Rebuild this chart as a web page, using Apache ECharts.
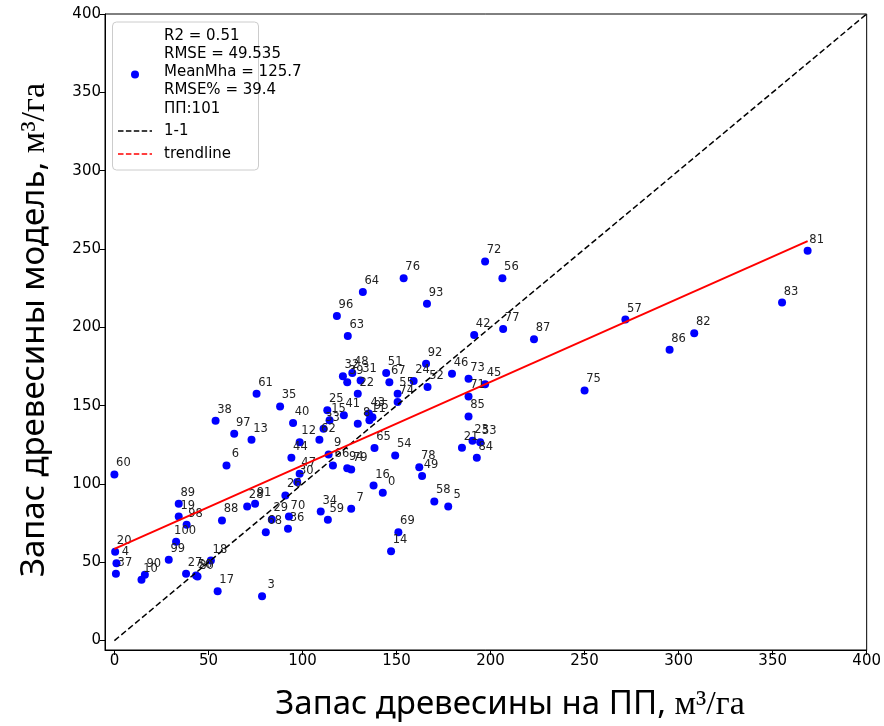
<!DOCTYPE html>
<html>
<head>
<meta charset="utf-8">
<script src="https://cdn.jsdelivr.net/npm/echarts@6/dist/echarts.min.js"></script>
<style>
  html, body { margin: 0; padding: 0; background: #ffffff; }
  #chart { width: 884px; height: 726px; }
</style>
</head>
<body>
<div id="chart"></div>
<script>
// Sample plot numbers (ПП) with field stock and model estimate, м³/га
const plotIds = [
  0, 3, 4, 5, 6, 7, 8, 9, 10, 11,
  12, 13, 14, 15, 16, 17, 18, 19, 20, 21,
  22, 23, 24, 25, 26, 27, 28, 29, 30, 31,
  32, 33, 34, 35, 36, 37, 38, 39, 40, 41,
  42, 43, 44, 45, 46, 47, 48, 49, 50, 51,
  52, 53, 54, 55, 56, 57, 58, 59, 60, 61,
  62, 63, 64, 65, 66, 67, 68, 69, 70, 71,
  72, 73, 74, 75, 76, 77, 78, 79, 80, 81,
  82, 83, 84, 85, 86, 87, 88, 89, 90, 91,
  92, 93, 94, 95, 96, 97, 98, 99, 100
];
const fieldStock = [
  142.7, 78.5, 1.1, 177.5, 59.6, 125.9, 129.4, 113.9, 14.4, 135.6,
  98.5, 72.9, 147.1, 114.4, 137.8, 54.9, 51.3, 34.2, 0.4, 184.8,
  129.4, 190.4, 159.1, 113.2, 90.9, 38.1, 70.6, 83.7, 97.2, 130.9,
  121.5, 111.2, 109.7, 88.1, 92.3, 0.8, 53.8, 123.8, 95.0, 122.0,
  191.3, 135.3, 94.1, 197.1, 179.5, 98.5, 126.5, 163.6, 43.4, 144.5,
  166.5, 194.5, 149.3, 150.6, 206.3, 271.7, 170.1, 113.5, 0.0, 75.6,
  109.0, 124.1, 132.1, 138.3, 116.2, 146.2, 80.5, 151.0, 92.8, 188.3,
  197.1, 188.3, 150.6, 250.0, 153.8, 206.7, 162.1, 125.9, 44.2, 368.6,
  308.3, 355.0, 192.7, 188.3, 295.2, 223.1, 57.2, 34.2, 16.2, 74.8,
  165.7, 166.2, 123.8, 137.2, 118.3, 63.7, 38.4, 28.9, 32.8
];
const modelStock = [
  94.4, 28.3, 49.4, 85.6, 111.8, 84.2, 138.5, 118.8, 38.8, 140.6,
  126.7, 128.2, 57.1, 140.6, 99.0, 31.5, 51.1, 79.2, 56.7, 123.1,
  157.6, 127.6, 165.7, 147.0, 92.7, 42.6, 85.6, 77.3, 101.3, 166.1,
  168.7, 135.3, 82.4, 149.5, 71.4, 42.6, 140.4, 165.0, 138.9, 143.8,
  195.1, 144.9, 116.7, 163.6, 170.4, 106.5, 170.8, 105.0, 41.5, 170.8,
  161.9, 126.7, 118.2, 157.6, 231.3, 204.9, 88.8, 77.1, 106.1, 157.6,
  128.2, 194.4, 222.6, 122.9, 111.8, 165.0, 69.2, 69.2, 79.2, 155.9,
  242.0, 167.2, 152.3, 159.7, 231.3, 198.9, 110.7, 109.3, 40.9, 248.8,
  196.2, 215.8, 116.7, 143.1, 185.7, 192.3, 76.7, 87.3, 42.0, 87.3,
  176.8, 215.1, 110.1, 142.5, 207.2, 132.1, 73.9, 51.6, 63.1
];

const xTicks = [0, 50, 100, 150, 200, 250, 300, 350, 400];
const yTicks = [0, 50, 100, 150, 200, 250, 300, 350, 400];
const statsLines = ['R2 = 0.51', 'RMSE = 49.535', 'MeanMha = 125.7', 'RMSE% = 39.4', 'ПП:101'];
const identityRange = [0, 400];
const trendSlope = 0.533;
const trendIntercept = 58.6;

const points = plotIds.map((id, i) => [fieldStock[i], modelStock[i], id]);
const xMin = Math.min(...fieldStock);
const xMax = Math.max(...fieldStock);
const trendLine = [xMin, xMax].map(x => [x, trendIntercept + trendSlope * x]);
const identityLine = identityRange.map(v => [v, v]);

const tickFont = 'DejaVu Sans';
const chart = echarts.init(document.getElementById('chart'), null, { renderer: 'canvas' });

const titleRich = {
  s: { fontFamily: 'Noto Sans', fontSize: 33, fill: '#000' },
  m: { fontFamily: 'Liberation Serif', fontSize: 34, fill: '#000' }
};

chart.setOption({
  animation: false,
  backgroundColor: '#ffffff',
  grid: {
    left: 105, top: 14, width: 764, height: 636,
    show: true, borderColor: '#000000', borderWidth: 1, backgroundColor: 'transparent'
  },
  xAxis: {
    type: 'value', min: -5, max: 400,
    axisLine: { show: true, onZero: false, lineStyle: { color: '#000', width: 1 } },
    axisTick: { show: true, inside: false, length: 5, customValues: xTicks, lineStyle: { color: '#000' } },
    axisLabel: { customValues: xTicks, color: '#000', fontFamily: tickFont, fontSize: 15, margin: 4 },
    splitLine: { show: false }
  },
  yAxis: {
    type: 'value', min: -6, max: 400,
    axisLine: { show: true, onZero: false, lineStyle: { color: '#000', width: 1 } },
    axisTick: { show: true, inside: false, length: 5, customValues: yTicks, lineStyle: { color: '#000' } },
    axisLabel: { customValues: yTicks, color: '#000', fontFamily: tickFont, fontSize: 15, margin: 4 },
    splitLine: { show: false }
  },
  series: [
    {
      type: 'scatter',
      data: points,
      symbol: 'circle',
      symbolSize: 8,
      itemStyle: { color: '#0000ff', opacity: 1 },
      label: {
        show: true,
        formatter: p => String(p.value[2]),
        position: [13, -7],
        align: 'center',
        verticalAlign: 'middle',
        color: '#222222',
        fontFamily: tickFont,
        fontSize: 11.5
      },
      labelLayout: { hideOverlap: false },
      z: 2
    },
    {
      type: 'line',
      data: identityLine,
      showSymbol: false,
      lineStyle: { color: '#000000', width: 1.5, type: [6, 3] },
      z: 3,
      silent: true
    },
    {
      type: 'line',
      data: trendLine,
      showSymbol: false,
      lineStyle: { color: '#ff0000', width: 2 },
      z: 4,
      silent: true
    }
  ],
  graphic: [
    {
      type: 'rect',
      shape: { x: 112.5, y: 22, width: 146, height: 148, r: 4 },
      style: { fill: 'rgba(255,255,255,0.8)', stroke: '#cccccc', lineWidth: 1 },
      z: 10
    },
    {
      type: 'circle',
      shape: { cx: 135, cy: 74.5, r: 4 },
      style: { fill: '#0000ff' },
      z: 11
    },
    {
      type: 'text',
      x: 164, y: 26.5,
      style: {
        text: statsLines.join('\n'),
        font: '15px "DejaVu Sans"',
        lineHeight: 18.3,
        fill: '#000',
        verticalAlign: 'top',
        align: 'left'
      },
      z: 11
    },
    {
      type: 'line',
      shape: { x1: 118, y1: 131, x2: 152, y2: 131 },
      style: { stroke: '#000000', lineWidth: 1.5, lineDash: [5.5, 2.4] },
      z: 11
    },
    {
      type: 'text',
      x: 164, y: 131,
      style: { text: '1-1', font: '15px "DejaVu Sans"', fill: '#000', verticalAlign: 'middle' },
      z: 11
    },
    {
      type: 'line',
      shape: { x1: 118, y1: 154, x2: 152, y2: 154 },
      style: { stroke: '#ff0000', lineWidth: 1.5, lineDash: [5.5, 2.4] },
      z: 11
    },
    {
      type: 'text',
      x: 164, y: 154,
      style: { text: 'trendline', font: '15px "DejaVu Sans"', fill: '#000', verticalAlign: 'middle' },
      z: 11
    },
    {
      type: 'text',
      x: 510, y: 705,
      style: {
        text: '{s|Запас древесины на ПП, }{m|м³/га}',
        align: 'center',
        verticalAlign: 'middle',
        rich: titleRich
      }
    },
    {
      type: 'text',
      x: 35, y: 330,
      rotation: Math.PI / 2,
      style: {
        text: '{s|Запас древесины модель, }{m|м³/га}',
        align: 'center',
        verticalAlign: 'middle',
        rich: titleRich
      }
    }
  ]
});
</script>
</body>
</html>
